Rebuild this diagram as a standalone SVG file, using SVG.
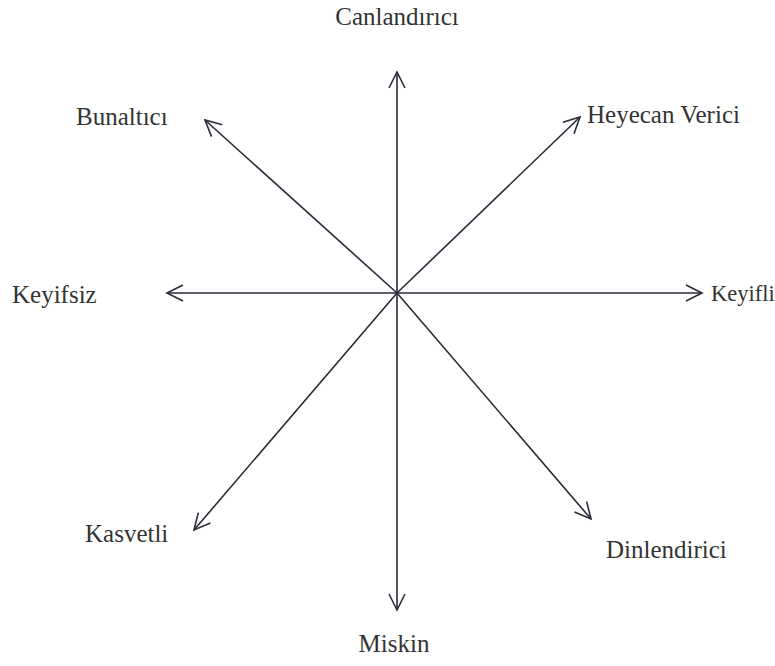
<svg xmlns="http://www.w3.org/2000/svg" width="775" height="666" viewBox="0 0 775 666">
<defs>
<marker id="arr" viewBox="0 0 20 20" refX="18" refY="10" markerWidth="20" markerHeight="20" markerUnits="userSpaceOnUse" orient="auto">
<path d="M2,2 L18,10 L2,18" fill="none" stroke="#2a2a3a" stroke-width="1.6"/>
</marker>
<style>
.ax{stroke:#2a2a3a;stroke-width:1.6;fill:none;marker-end:url(#arr)}
.lb{font-family:"Liberation Serif",serif;font-size:25px;fill:#333}
</style>
</defs>
<rect width="775" height="666" fill="#fff"/>
<g id="connectors">
<line class="ax" x1="397" y1="293" x2="397" y2="72"/>
<line class="ax" x1="397" y1="293" x2="397" y2="610"/>
<line class="ax" x1="397" y1="293" x2="167" y2="293"/>
<line class="ax" x1="397" y1="293" x2="702" y2="293"/>
<line class="ax" x1="397" y1="293" x2="205" y2="120"/>
<line class="ax" x1="397" y1="293" x2="580" y2="117"/>
<line class="ax" x1="397" y1="293" x2="194" y2="530"/>
<line class="ax" x1="397" y1="293" x2="591" y2="519"/>
</g>
<g id="n-canlandirici"><text class="lb" x="397" y="25" text-anchor="middle">Canlandırıcı</text></g>
<g id="n-bunaltici"><text class="lb" x="76" y="125">Bunaltıcı</text></g>
<g id="n-heyecan"><text class="lb" x="587" y="123">Heyecan Verici</text></g>
<g id="n-keyifsiz"><text class="lb" x="12" y="303">Keyifsiz</text></g>
<g id="n-keyifli"><text class="lb" x="711" y="301" style="font-size:22.5px">Keyifli</text></g>
<g id="n-kasvetli"><text class="lb" x="85" y="542">Kasvetli</text></g>
<g id="n-dinlendirici"><text class="lb" x="606" y="558">Dinlendirici</text></g>
<g id="n-miskin"><text class="lb" x="394" y="652" text-anchor="middle">Miskin</text></g>
</svg>
